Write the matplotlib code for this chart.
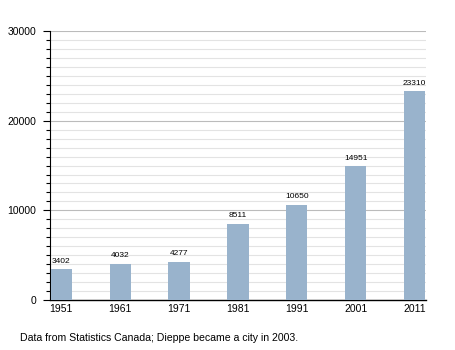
import matplotlib
matplotlib.use("Agg")
import matplotlib.pyplot as plt
from matplotlib.ticker import MultipleLocator

years = ["1951", "1961", "1971", "1981", "1991", "2001", "2011"]
population = [3402, 4032, 4277, 8511, 10650, 14951, 23310]

plt.rcParams['font.family'] = ['Liberation Sans', 'DejaVu Sans']

fig = plt.figure(figsize=(4.55, 3.5), dpi=100)
ax = fig.add_axes([0.110, 0.143, 0.826, 0.768])

x = range(len(years))
ax.bar(x, population, width=0.36, color="#99b3cc", zorder=3)
for xi, v in zip(x, population):
    ax.text(xi, v + 500, str(v), ha="center", va="bottom", fontsize=6, zorder=4)

ax.set_xlim(-0.19, len(years) - 1 + 0.19)
ax.set_ylim(0, 30000)
ax.set_xticks(list(x))
ax.set_xticklabels(years, fontsize=7.5)
ax.yaxis.set_major_locator(MultipleLocator(10000))
ax.yaxis.set_minor_locator(MultipleLocator(1000))
ax.tick_params(axis="y", which="major", length=5, width=0.8, labelsize=7.5, pad=5)
ax.tick_params(axis="y", which="minor", length=3, width=0.8)
ax.tick_params(axis="x", length=0, pad=3)
ax.grid(axis="y", which="major", color="#bbbbbb", linewidth=0.8, zorder=0)
ax.grid(axis="y", which="minor", color="#e3e3e3", linewidth=0.8, zorder=0)
for s in ["top", "right"]:
    ax.spines[s].set_visible(False)
ax.spines["left"].set_linewidth(0.8)
ax.spines["bottom"].set_linewidth(1.0)

fig.text(20 / 455, 1 - 338 / 350, "Data from Statistics Canada; Dieppe became a city in 2003.",
         fontsize=7.6, va="center", ha="left")

fig.savefig("out.png", dpi=100)
